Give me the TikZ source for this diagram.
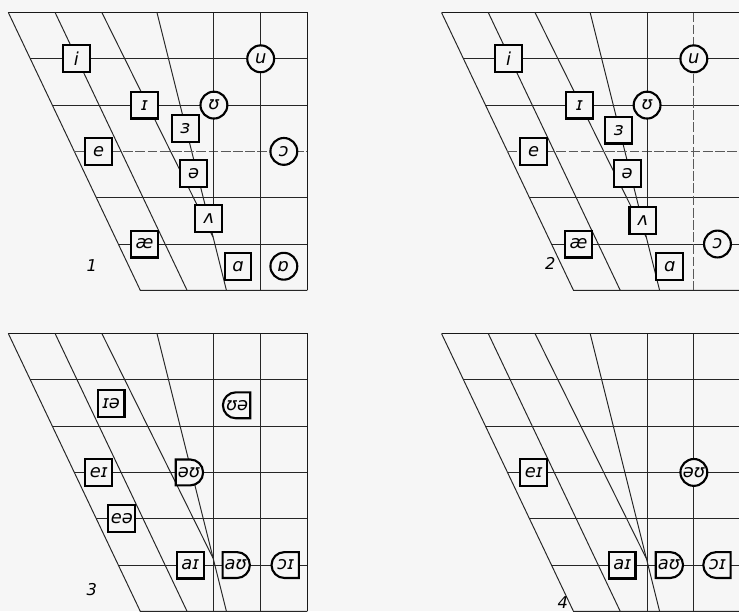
\documentclass[tikz,border=0pt]{standalone}
\usepackage{fontspec}
\setmainfont{DejaVu Sans}
\usepackage{xcolor}
\usepackage{tikz}
\usetikzlibrary{shapes,positioning}

\definecolor{paper}{gray}{0.965}
\newcommand{\ipa}{\itshape\fontsize{11}{13}\selectfont}

% one vowel chart: top and right edge, bottom, slanted lines
\newcommand{\chartframe}{%
  \draw[frameline] (0,0) -- (6.46,0) -- (6.46,-6);
  \draw[gline] (0,0) -- (2.85,-6) -- (6.46,-6);
  \draw[gline] (1.01,0) -- (3.86,-6);
  \draw[gline] (2.02,0) -- (4.42,-4.85);
  \draw[gline] (3.21,0) -- (4.71,-6);
}

\begin{document}
\begin{tikzpicture}[
    gline/.style={line width=0.6pt, black!85},
    dimline/.style={line width=0.5pt, black!65, dash pattern=on 6pt off 1.5pt},
    frameline/.style={line width=0.9pt, black!90},
    vbox/.style={draw, line width=1.3pt, fill=paper, minimum size=0.58cm, inner sep=1pt, font=\ipa},
    vring/.style={circle, draw, line width=1.3pt, fill=paper, minimum size=0.58cm, inner sep=0pt, font=\ipa},
    rright/.style={rounded rectangle, rounded rectangle left arc=none, draw, line width=1.3pt, fill=paper,
        minimum width=0.66cm, minimum height=0.56cm, inner sep=1pt, font=\ipa},
    rleft/.style={rounded rectangle, rounded rectangle right arc=none, draw, line width=1.3pt, fill=paper,
        minimum width=0.66cm, minimum height=0.56cm, inner sep=1pt, font=\ipa},
    num/.style={font=\itshape\fontsize{10}{12}\selectfont}
]
    \fill[paper] (0,0) rectangle (15.96,-13.197);
    \useasboundingbox (0,0) rectangle (15.96,-13.197);

    % chart 1: monophthongs
    \begin{scope}[shift={(0.18,-0.27)}]
        \chartframe
        \foreach \r in {1,2,4,5} \draw[gline] ({0.475*\r},-\r) -- (6.46,-\r);
        \draw[dimline] (1.425,-3) -- (6.46,-3);
        \draw[gline] (4.44,0) -- (4.44,-4.45);
        \draw[gline] (5.45,0) -- (5.45,-6);
        \node[vbox] (i1) at (1.47,-1) {i};
        \node[vbox] (ih1) at (2.94,-2) {ɪ};
        \node[vbox] (e1) at (1.95,-3) {e};
        \node[vbox] (er1) at (3.82,-2.5) {ɜ};
        \node[vbox] (sw1) at (4.0,-3.48) {ə};
        \node[vbox] (uh1) at (4.33,-4.45) {ʌ};
        \node[vbox] (ae1) at (2.94,-5) {æ};
        \node[vbox] (ah1) at (4.96,-5.48) {ɑ};
        \node[vring] (u1) at (5.45,-1) {u};
        \node[vring] (uu1) at (4.44,-2) {ʊ};
        \node[vring] (aw1) at (5.95,-3) {ɔ};
        \node[vring] (o1) at (5.95,-5.48) {ɒ};
        \node[num] (n1) at (1.8,-5.46) {1};
    \end{scope}

    % chart 2: monophthongs
    \begin{scope}[shift={(9.535,-0.27)}]
        \chartframe
        \foreach \r in {1,2,4,5} \draw[gline] ({0.475*\r},-\r) -- (6.46,-\r);
        \draw[dimline] (1.425,-3) -- (6.46,-3);
        \draw[gline] (4.44,0) -- (4.44,-4.45);
        \draw[dimline] (5.45,0) -- (5.45,-6);
        \node[vbox] (i2) at (1.45,-1) {i};
        \node[vbox] (ih2) at (2.98,-2) {ɪ};
        \node[vbox] (e2) at (1.99,-3) {e};
        \node[vbox] (er2) at (3.83,-2.54) {ɜ};
        \node[vbox] (sw2) at (4.01,-3.48) {ə};
        \node[vbox] (uh2) at (4.35,-4.49) {ʌ};
        \node[vbox] (ae2) at (2.96,-5) {æ};
        \node[vbox] (ah2) at (4.93,-5.48) {ɑ};
        \node[vring] (u2) at (5.45,-1) {u};
        \node[vring] (uu2) at (4.44,-2) {ʊ};
        \node[vring] (aw2) at (5.96,-5) {ɔ};
        \node[num] (n2) at (2.35,-5.42) {2};
    \end{scope}

    % chart 3: diphthongs
    \begin{scope}[shift={(0.18,-7.203)}]
        \chartframe
        \foreach \r in {1,...,5} \draw[gline] ({0.475*\r},-\r) -- (6.46,-\r);
        \draw[gline] (4.44,0) -- (4.44,-6);
        \draw[gline] (5.45,0) -- (5.45,-6);
        \node[vbox] (ia3) at (2.22,-1.51) {ɪə};
        \node[rleft] (ua3) at (4.94,-1.55) {ʊə};
        \node[vbox] (ei3) at (1.95,-3) {eɪ};
        \node[rright] (ou3) at (3.9,-3) {əʊ};
        \node[vbox] (ea3) at (2.45,-4) {eə};
        \node[vbox] (ai3) at (3.93,-5) {aɪ};
        \node[rright] (au3) at (4.91,-5) {aʊ};
        \node[rleft] (oi3) at (5.99,-5) {ɔɪ};
        \node[num] (n3) at (1.8,-5.53) {3};
    \end{scope}

    % chart 4: diphthongs
    \begin{scope}[shift={(9.535,-7.203)}]
        \chartframe
        \foreach \r in {1,...,5} \draw[gline] ({0.475*\r},-\r) -- (6.46,-\r);
        \draw[gline] (4.44,0) -- (4.44,-6);
        \draw[gline] (5.45,0) -- (5.45,-6);
        \node[vbox] (ei4) at (1.99,-3) {eɪ};
        \node[vring] (ou4) at (5.45,-3) {əʊ};
        \node[vbox] (ai4) at (3.9,-5) {aɪ};
        \node[rright] (au4) at (4.91,-5) {aʊ};
        \node[rleft] (oi4) at (5.96,-5) {ɔɪ};
        \node[num] (n4) at (2.62,-5.8) {4};
    \end{scope}
\end{tikzpicture}
\end{document}
